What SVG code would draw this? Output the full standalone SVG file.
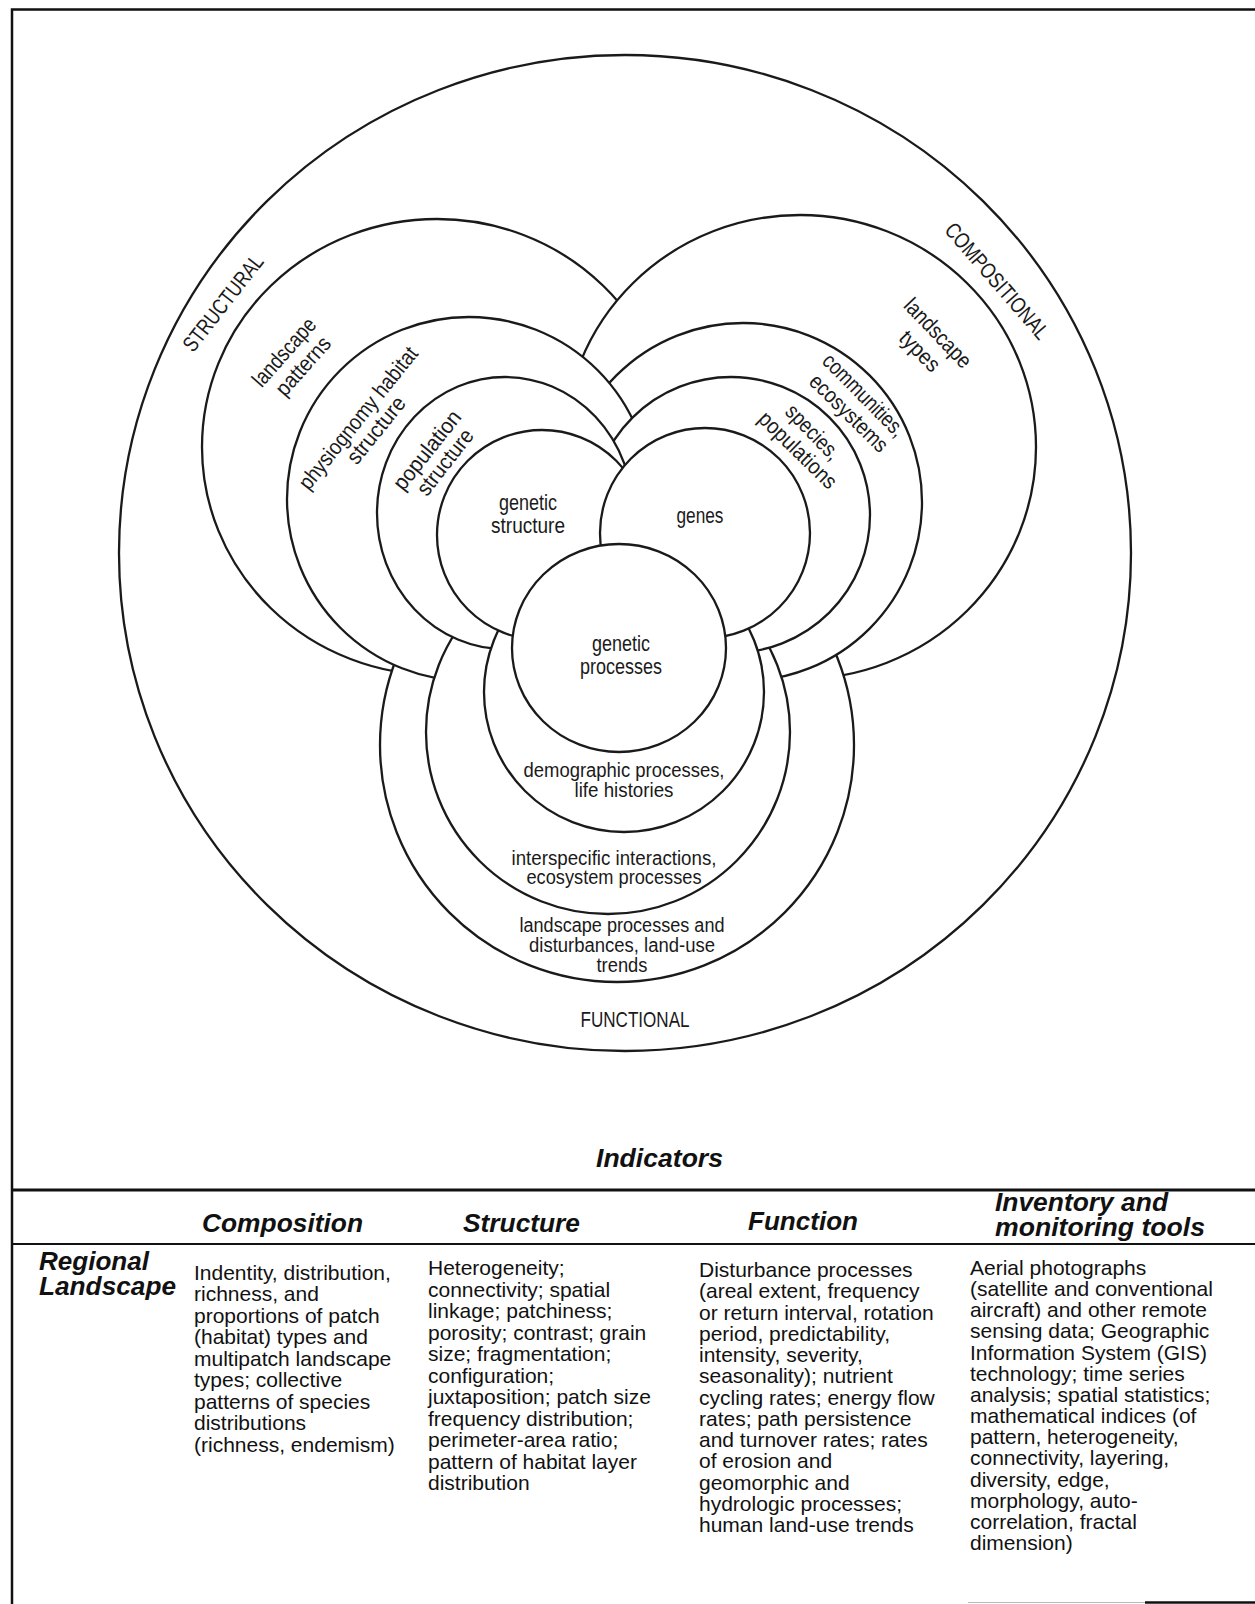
<svg xmlns="http://www.w3.org/2000/svg" width="1255" height="1604" viewBox="0 0 1255 1604">
<style>
.c{fill:#fff;stroke:#1a1a1a;stroke-width:2.3}
.lbl{font-family:"Liberation Sans",Arial,sans-serif;font-size:22px;fill:#1a1a1a}
.fl{font-family:"Liberation Sans",Arial,sans-serif;font-size:19.5px;fill:#1a1a1a;text-anchor:middle}
.rot{font-family:"Liberation Sans",Arial,sans-serif;font-size:22px;fill:#1a1a1a;text-anchor:middle;dominant-baseline:central}
.body{font-family:"Liberation Sans",Arial,sans-serif;font-size:21px;fill:#111}
.hdr{font-family:"Liberation Sans",Arial,sans-serif;font-size:25px;font-weight:bold;font-style:italic;fill:#111}
.rule{stroke:#111;fill:none}
</style>
<rect x="0" y="0" width="1255" height="1604" fill="#fff"/>
<g id="frame">
<path class="rule" stroke-width="2.5" d="M12,1604 V9.5 H1255"/>
<line class="rule" stroke-width="2.8" x1="12" y1="1190" x2="1255" y2="1190"/>
<line class="rule" stroke-width="2" x1="12" y1="1244" x2="1255" y2="1244"/>
<line stroke="#bbb" stroke-width="1" x1="968" y1="1602.5" x2="1145" y2="1602.5"/>
<line class="rule" stroke-width="2.5" x1="1145" y1="1602.5" x2="1255" y2="1602.5"/>
</g>
<g id="outer-biodiversity">
<ellipse class="c" cx="625" cy="553" rx="506" ry="498"/>
</g>
<g id="landscape-patterns">
<ellipse class="c" cx="437" cy="447" rx="235" ry="228"/>
<text class="rot" transform="translate(284,352) rotate(-48.5)" textLength="84" lengthAdjust="spacingAndGlyphs">landscape</text>
<text class="rot" transform="translate(303,366) rotate(-48.5)" textLength="71" lengthAdjust="spacingAndGlyphs">patterns</text>
</g>
<g id="landscape-types">
<ellipse class="c" cx="800" cy="447" rx="236" ry="232"/>
<text class="rot" transform="translate(938,333) rotate(46.5)" textLength="87" lengthAdjust="spacingAndGlyphs">landscape</text>
<text class="rot" transform="translate(920,351) rotate(45.5)" textLength="48" lengthAdjust="spacingAndGlyphs">types</text>
</g>
<g id="landscape-processes">
<circle class="c" cx="617" cy="745" r="237"/>
<text class="fl" x="622" y="932" textLength="205" lengthAdjust="spacingAndGlyphs">landscape processes and</text>
<text class="fl" x="622" y="952" textLength="186" lengthAdjust="spacingAndGlyphs">disturbances, land-use</text>
<text class="fl" x="622" y="972" textLength="51" lengthAdjust="spacingAndGlyphs">trends</text>
</g>
<g id="communities-ecosystems">
<circle class="c" cx="743" cy="502" r="179"/>
<text class="rot" transform="translate(864,395) rotate(45.4)" textLength="107" lengthAdjust="spacingAndGlyphs">communities,</text>
<text class="rot" transform="translate(849,413) rotate(44.6)" textLength="101" lengthAdjust="spacingAndGlyphs">ecosystems</text>
</g>
<g id="physiognomy-habitat-structure">
<circle class="c" cx="469" cy="499" r="182"/>
<text class="rot" transform="translate(358,418) rotate(-51.2)" textLength="176" lengthAdjust="spacingAndGlyphs">physiognomy habitat</text>
<text class="rot" transform="translate(376,430) rotate(-51)" textLength="80" lengthAdjust="spacingAndGlyphs">structure</text>
</g>
<g id="interspecific-interactions">
<circle class="c" cx="608" cy="732" r="182"/>
<text class="fl" x="614" y="865" textLength="205" lengthAdjust="spacingAndGlyphs">interspecific interactions,</text>
<text class="fl" x="614" y="884" textLength="175" lengthAdjust="spacingAndGlyphs">ecosystem processes</text>
</g>
<g id="species-populations">
<ellipse class="c" cx="731" cy="515" rx="139" ry="138"/>
<text class="rot" transform="translate(813,432) rotate(46)" textLength="68" lengthAdjust="spacingAndGlyphs">species,</text>
<text class="rot" transform="translate(798,450) rotate(44.5)" textLength="100" lengthAdjust="spacingAndGlyphs">populations</text>
</g>
<g id="population-structure">
<ellipse class="c" cx="505" cy="513" rx="128" ry="136"/>
<text class="rot" transform="translate(427,450) rotate(-51.5)" textLength="95" lengthAdjust="spacingAndGlyphs">population</text>
<text class="rot" transform="translate(445,462) rotate(-52)" textLength="78" lengthAdjust="spacingAndGlyphs">structure</text>
</g>
<g id="demographic-processes">
<circle class="c" cx="624" cy="692" r="140"/>
<text class="fl" x="624" y="777" textLength="201" lengthAdjust="spacingAndGlyphs">demographic processes,</text>
<text class="fl" x="624" y="797" textLength="99" lengthAdjust="spacingAndGlyphs">life histories</text>
</g>
<g id="genetic-structure">
<circle class="c" cx="542" cy="535" r="105"/>
<text class="lbl" text-anchor="middle" x="528" y="510" textLength="58" lengthAdjust="spacingAndGlyphs">genetic</text>
<text class="lbl" text-anchor="middle" x="528" y="533" textLength="74" lengthAdjust="spacingAndGlyphs">structure</text>
</g>
<g id="genes">
<circle class="c" cx="705" cy="533" r="105"/>
<text class="lbl" text-anchor="middle" x="700" y="523" textLength="47" lengthAdjust="spacingAndGlyphs">genes</text>
</g>
<g id="genetic-processes">
<ellipse class="c" cx="619" cy="648" rx="107" ry="104"/>
<text class="lbl" text-anchor="middle" x="621" y="651" textLength="58" lengthAdjust="spacingAndGlyphs">genetic</text>
<text class="lbl" text-anchor="middle" x="621" y="674" textLength="82" lengthAdjust="spacingAndGlyphs">processes</text>
</g>
<g id="attribute-labels">
<text class="rot" font-size="19" transform="translate(223,303) rotate(-52)" textLength="116" lengthAdjust="spacingAndGlyphs">STRUCTURAL</text>
<text class="rot" font-size="19" transform="translate(997,281) rotate(49)" textLength="146" lengthAdjust="spacingAndGlyphs">COMPOSITIONAL</text>
<text class="lbl" font-size="20" text-anchor="middle" x="635" y="1027" textLength="109" lengthAdjust="spacingAndGlyphs">FUNCTIONAL</text>
</g>
<g id="indicator-table">
<text class="hdr" font-size="26" x="596" y="1167" textLength="127" lengthAdjust="spacingAndGlyphs">Indicators</text>
<text class="hdr" x="202" y="1232" textLength="161" lengthAdjust="spacingAndGlyphs">Composition</text>
<text class="hdr" x="463" y="1232" textLength="117" lengthAdjust="spacingAndGlyphs">Structure</text>
<text class="hdr" x="748" y="1230" textLength="110" lengthAdjust="spacingAndGlyphs">Function</text>
<text class="hdr" font-size="22" x="995" y="1210.5" textLength="173" lengthAdjust="spacingAndGlyphs">Inventory and</text>
<text class="hdr" font-size="22" x="995" y="1236" textLength="210" lengthAdjust="spacingAndGlyphs">monitoring tools</text>
<text class="hdr" font-size="22" x="39" y="1269.5" textLength="110" lengthAdjust="spacingAndGlyphs">Regional</text>
<text class="hdr" font-size="22" x="39" y="1295" textLength="137" lengthAdjust="spacingAndGlyphs">Landscape</text>
<text class="body" x="194" y="1280">
<tspan x="194" y="1280">Indentity, distribution,</tspan>
<tspan x="194" dy="21.46">richness, and</tspan>
<tspan x="194" dy="21.46">proportions of patch</tspan>
<tspan x="194" dy="21.46">(habitat) types and</tspan>
<tspan x="194" dy="21.46">multipatch landscape</tspan>
<tspan x="194" dy="21.46">types; collective</tspan>
<tspan x="194" dy="21.46">patterns of species</tspan>
<tspan x="194" dy="21.46">distributions</tspan>
<tspan x="194" dy="21.46">(richness, endemism)</tspan>
</text>
<text class="body" x="428" y="1275">
<tspan x="428" y="1275">Heterogeneity;</tspan>
<tspan x="428" dy="21.5">connectivity; spatial</tspan>
<tspan x="428" dy="21.5">linkage; patchiness;</tspan>
<tspan x="428" dy="21.5">porosity; contrast; grain</tspan>
<tspan x="428" dy="21.5">size; fragmentation;</tspan>
<tspan x="428" dy="21.5">configuration;</tspan>
<tspan x="428" dy="21.5">juxtaposition; patch size</tspan>
<tspan x="428" dy="21.5">frequency distribution;</tspan>
<tspan x="428" dy="21.5">perimeter-area ratio;</tspan>
<tspan x="428" dy="21.5">pattern of habitat layer</tspan>
<tspan x="428" dy="21.5">distribution</tspan>
</text>
<text class="body" x="699" y="1277">
<tspan x="699" y="1277">Disturbance processes</tspan>
<tspan x="699" dy="21.25">(areal extent, frequency</tspan>
<tspan x="699" dy="21.25">or return interval, rotation</tspan>
<tspan x="699" dy="21.25">period, predictability,</tspan>
<tspan x="699" dy="21.25">intensity, severity,</tspan>
<tspan x="699" dy="21.25">seasonality); nutrient</tspan>
<tspan x="699" dy="21.25">cycling rates; energy flow</tspan>
<tspan x="699" dy="21.25">rates; path persistence</tspan>
<tspan x="699" dy="21.25">and turnover rates; rates</tspan>
<tspan x="699" dy="21.25">of erosion and</tspan>
<tspan x="699" dy="21.25">geomorphic and</tspan>
<tspan x="699" dy="21.25">hydrologic processes;</tspan>
<tspan x="699" dy="21.25">human land-use trends</tspan>
</text>
<text class="body" x="970" y="1275">
<tspan x="970" y="1275">Aerial photographs</tspan>
<tspan x="970" dy="21.15">(satellite and conventional</tspan>
<tspan x="970" dy="21.15">aircraft) and other remote</tspan>
<tspan x="970" dy="21.15">sensing data; Geographic</tspan>
<tspan x="970" dy="21.15">Information System (GIS)</tspan>
<tspan x="970" dy="21.15">technology; time series</tspan>
<tspan x="970" dy="21.15">analysis; spatial statistics;</tspan>
<tspan x="970" dy="21.15">mathematical indices (of</tspan>
<tspan x="970" dy="21.15">pattern, heterogeneity,</tspan>
<tspan x="970" dy="21.15">connectivity, layering,</tspan>
<tspan x="970" dy="21.15">diversity, edge,</tspan>
<tspan x="970" dy="21.15">morphology, auto-</tspan>
<tspan x="970" dy="21.15">correlation, fractal</tspan>
<tspan x="970" dy="21.15">dimension)</tspan>
</text>
</g>
</svg>
